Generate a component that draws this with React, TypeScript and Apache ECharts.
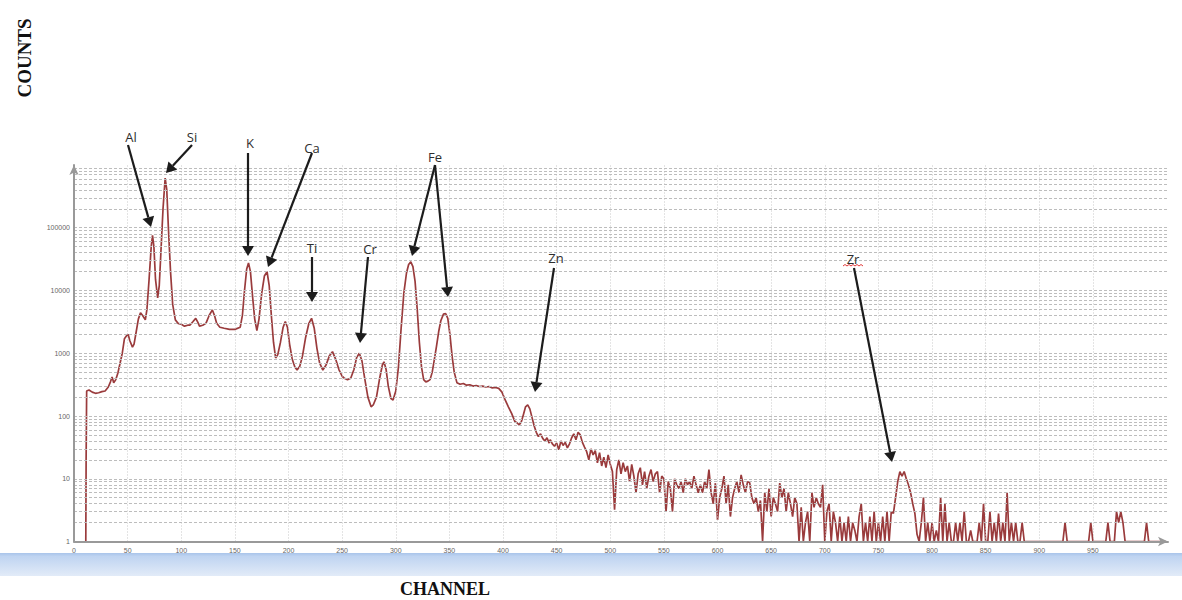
import React, { useEffect, useRef } from "react";
import * as echarts from "echarts";

// ---- DATA ----
// Smooth low-channel part of the spectrum: [channel, counts]
const peakRegion: [number, number][] = [
  [11, 1], [11.3, 20], [11.8, 250], [14, 260], [17, 240], [20, 230], [23, 235], [26, 245], [29, 250],
  [32, 290], [34, 350], [35.5, 420], [37, 340], [39, 380], [41, 490], [43, 700], [45, 1000], [47, 1700],
  [49, 1900], [50.5, 2000], [52, 1600], [54.5, 1250], [56, 1400], [58, 2200], [60, 3500], [62, 4400],
  [64, 4000], [66.5, 3400], [68, 5000], [70, 15000], [72, 50000], [73.2, 76000], [74.5, 50000],
  [76, 15000], [78, 7600], [79.5, 12000], [81, 40000], [83, 200000], [85, 620000], [86.5, 400000],
  [88, 100000], [90, 20000], [92, 6000], [94.5, 3400], [97, 3000], [100, 2900], [103, 2700], [106, 2800],
  [108, 2800], [111, 3200], [113.5, 3600], [115.5, 3100], [117, 2700], [120, 2800], [123, 3000],
  [126, 4000], [129, 4900], [131, 4000], [133, 3000], [136, 2600], [140, 2500], [145, 2400], [150, 2400],
  [155, 2600], [157, 4000], [159, 10000], [161, 22000], [162.7, 27500], [164.5, 20000], [166.5, 8000],
  [168.5, 3500], [170.5, 2300], [172.5, 3500], [175, 9000], [177.5, 17000], [180, 19900], [182, 12000],
  [184, 4000], [186, 1500], [188, 840], [190, 950], [192.5, 1500], [195, 2600], [197, 3200], [199, 2600],
  [201, 1400], [203.5, 800], [206, 600], [208, 540], [210.5, 620], [213, 900], [216, 1800], [219, 3000],
  [221.5, 3600], [224, 2500], [226.5, 1200], [229, 700], [232, 540], [235, 650], [238, 900], [241, 1060],
  [244, 800], [247, 550], [250, 430], [252, 400], [255, 380], [258, 400], [261, 550], [263.5, 850],
  [266, 1000], [268.5, 750], [271, 400], [274, 200], [277, 140], [279, 150], [282, 200], [285, 400],
  [287.5, 650], [289, 730], [291, 550], [293, 300], [295.5, 190], [297.5, 180], [300, 250], [302.5, 600],
  [305, 2500], [307.5, 9000], [310, 19000], [312, 26000], [314, 28600], [316, 24000], [318, 14000],
  [320, 5000], [322, 1500], [324, 600], [326, 380], [328, 350], [330, 360], [332, 380], [334, 500],
  [336, 800], [338, 1300], [340, 2200], [342, 3300], [344.5, 4200], [346.5, 4300], [348.5, 3600],
  [350.5, 2000], [352.5, 900], [354.5, 500], [357, 340], [360, 320], [363, 330], [366, 310], [369, 315],
  [372, 300], [375, 305], [378, 295], [381, 300], [384, 290], [387, 295], [390, 280], [393, 285],
  [396, 275], [399, 240], [402, 180], [405, 140], [408, 110], [411, 82], [413, 78], [415, 72], [417, 80],
  [419, 105], [421, 140], [423, 150], [425, 130], [427, 95], [429, 70], [431, 55], [433, 47], [435, 52],
  [437, 44], [439, 40], [441, 45], [443, 37],
];

// Noisy high-channel tail: counts every 2 channels starting at channel 444
const tailStartChannel = 444;
const tailChannelStep = 2;
const tailCounts: number[] = [
  42, 36, 33, 37, 29, 40, 34, 38, 31, 36,
  45, 52, 42, 55, 50, 38, 32, 27, 20, 30,
  24, 28, 18, 26, 16, 22, 15, 24, 17, 13,
  3.2, 14, 20, 12, 18, 13, 16, 9, 17, 11,
  6, 12, 15, 8, 13, 7, 11, 14, 9, 12,
  13, 6, 11, 10, 3, 9, 7, 3, 10, 8,
  7, 9, 6, 10, 8, 9, 7, 11, 8, 6,
  8, 6, 9, 7, 14, 6, 4, 8.5, 2.2, 5,
  7, 11, 4, 8, 2.5, 5, 7, 9, 6, 11.5,
  8, 6, 9, 8.6, 5, 4, 5, 3, 4.5, 1,
  6, 3, 7, 2.5, 5, 4, 3, 8.5, 5, 7,
  3, 6, 4, 2.5, 5, 4, 1, 3.5, 1, 2,
  3, 1, 6, 3.5, 5, 4, 3.5, 8, 1, 3,
  4, 1, 3, 2, 1, 2.5, 1, 2, 1, 2.5,
  1, 2, 1.5, 1, 2.5, 4, 1, 2, 1, 2.5,
  1, 3, 1, 2, 1, 2.5, 1, 3, 1, 3,
  2.8, 5, 9, 13, 11, 13, 10, 8, 6, 4,
  2.8, 1.3, 1, 2, 5, 1, 2, 1, 2, 1,
  1.5, 1, 5, 1, 4, 1, 2, 1, 1, 2,
  1, 2, 1, 3, 1, 1, 1.5, 1, 1, 1,
  2, 1, 4, 1, 1, 3, 1, 2, 1, 2.8,
  1, 2, 1, 6, 1, 2, 1, 2, 1, 1,
  2, 1, 1, 1, 1, 1, 1, 1, 1, 1,
  1, 1, 1, 1, 1, 1, 1, 1, 1, 1,
  2, 1, 1, 1, 1, 1, 1, 1, 1, 1,
  1, 1, 2, 1, 1, 1, 1, 1, 1, 1,
  2, 1, 1, 1, 3, 2, 3, 2, 1, 1,
  1, 1, 1, 1, 1, 1, 1, 1, 2, 1,
  1, 1, 1, 1, 1, 1, 1, 1,
];

const xTickValues = [50, 100, 150, 200, 250, 300, 350, 400, 450, 500, 550, 600, 650, 700, 750, 800, 850, 900, 950];
const yDecades = [1, 10, 100, 1000, 10000, 100000];
const yMinorSteps = [1, 2, 3, 4, 5, 6, 7, 8, 9];

// Element annotations (label text and positions are layout, in pixels)
const elementLabels = ["Al", "Si", "K", "Ca", "Ti", "Cr", "Fe", "Zn", "Zr"];

// ---- LAYOUT ----
const labelPos: Record<string, [number, number]> = {
  Al: [131, 137], Si: [192, 137], K: [250, 143], Ca: [312, 148], Ti: [312, 248],
  Cr: [370, 249], Fe: [435, 157], Zn: [556, 258], Zr: [853, 259],
};
const arrowPaths: Record<string, [number, number, number, number][]> = {
  Al: [[128, 145, 151, 227]],
  Si: [[192, 145, 166, 173]],
  K: [[248, 153, 248, 256]],
  Ca: [[312, 153, 268, 267]],
  Ti: [[312, 257, 312, 302]],
  Cr: [[368, 257, 360, 343]],
  Fe: [[435, 165, 412, 256], [435, 165, 448, 297]],
  Zn: [[554, 268, 535, 392]],
  Zr: [[854, 268, 892, 462]],
};
const whiteBoxes: [number, number, number, number][] = [
  [293, 238, 46, 24], [348, 238, 52, 24], [525, 243, 72, 29], [823, 243, 82, 34],
];

function arrowEls(x1: number, y1: number, x2: number, y2: number) {
  const dx = x2 - x1, dy = y2 - y1;
  const L = Math.hypot(dx, dy);
  const ux = dx / L, uy = dy / L;
  const hl = 10, hw = 6;
  const bx = x2 - ux * hl, by = y2 - uy * hl;
  return [
    { type: "line", z: 20, shape: { x1, y1, x2: bx, y2: by }, style: { stroke: "#1c1c1c", lineWidth: 2.2 } },
    {
      type: "polygon", z: 20,
      shape: { points: [[x2, y2], [bx - uy * hw, by + ux * hw], [bx + uy * hw, by - ux * hw]] },
      style: { fill: "#1c1c1c" },
    },
  ];
}

export default function App() {
  const ref = useRef<HTMLDivElement>(null);
  useEffect(() => {
    if (!ref.current) return;
    const chart = echarts.init(ref.current, undefined, { renderer: "svg" });

    const tail: [number, number][] = tailCounts.map((c, i) => [tailStartChannel + i * tailChannelStep, c]);
    const spectrum = [...peakRegion, ...tail];

    const gridLines: any[] = [];
    xTickValues.forEach((v) =>
      gridLines.push({ xAxis: v, lineStyle: { color: "#c9c9c9", type: [1, 2], width: 1 } })
    );
    yDecades.forEach((d) =>
      yMinorSteps.forEach((m) => {
        const v = d * m;
        if (v > 1) gridLines.push({ yAxis: v, lineStyle: { color: "#bdbdbd", type: [3, 2], width: 1 } });
      })
    );

    const graphics: any[] = [
      {
        type: "rect", z: 0, shape: { x: 0, y: 553, width: 1182, height: 23 },
        style: {
          fill: new echarts.graphic.LinearGradient(0, 0, 0, 1, [
            { offset: 0, color: "#a9c4ea" },
            { offset: 0.15, color: "#bfd4f1" },
            { offset: 1, color: "#e2ebf8" },
          ]),
        },
      },
      {
        type: "text", z: 20, x: 24, y: 58, rotation: Math.PI / 2,
        style: { text: "COUNTS", font: 'bold 19px "Liberation Serif"', fill: "#111", align: "center", verticalAlign: "middle" },
      },
      {
        type: "text", z: 20, x: 445, y: 589,
        style: { text: "CHANNEL", font: 'bold 18px "Liberation Serif"', fill: "#111", align: "center", verticalAlign: "middle" },
      },
    ];
    whiteBoxes.forEach(([x, y, w, h]) =>
      graphics.push({ type: "rect", z: 5, shape: { x, y, width: w, height: h }, style: { fill: "#ffffff" } })
    );
    elementLabels.forEach((name) => {
      const [x, y] = labelPos[name];
      graphics.push({
        type: "text", z: 20, x, y,
        style: { text: name, font: '13px "Open Sans"', fill: "#2e2e2e", align: "center", verticalAlign: "middle" },
      });
      arrowPaths[name].forEach(([a, b, c, d]) => graphics.push(...arrowEls(a, b, c, d)));
    });
    // spell-check squiggle under Zr
    graphics.push({
      type: "polyline", z: 20,
      shape: { points: [[843, 266], [845, 264.5], [847, 266], [849, 264.5], [851, 266], [853, 264.5], [855, 266], [857, 264.5], [859, 266], [861, 264.5], [863, 266]] },
      style: { stroke: "#e23b3b", lineWidth: 1, fill: null },
    });

    chart.setOption({
      animation: false,
      grid: { left: 74, right: 14, top: 165, bottom: 58.5, containLabel: false },
      xAxis: {
        type: "value", min: 0, max: 1020, interval: 50, z: 10,
        axisLine: { show: true, symbol: ["none", "arrow"], symbolSize: [7, 10], lineStyle: { color: "#999", width: 2 } },
        axisTick: { show: false },
        splitLine: { show: false },
        axisLabel: {
          fontSize: 7, color: "#666", margin: 5, fontFamily: "Liberation Sans",
          formatter: (v: number) => (v >= 1000 ? "" : String(v)),
        },
      },
      yAxis: {
        type: "log", logBase: 10, min: 1, max: 1000000, z: 10,
        axisLine: { show: true, symbol: ["none", "arrow"], symbolSize: [7, 10], lineStyle: { color: "#999", width: 2 } },
        axisTick: { show: false },
        splitLine: { show: false },
        axisLabel: {
          fontSize: 7, color: "#666", margin: 4, fontFamily: "Liberation Sans",
          formatter: (v: number) => (v >= 999999 ? "" : String(Math.round(v))),
        },
      },
      series: [
        {
          type: "line", data: [], z: 1, silent: true,
          markLine: { silent: true, symbol: "none", label: { show: false }, animation: false, data: gridLines },
        },
        {
          type: "line", data: spectrum, z: 3, showSymbol: false, symbol: "none", clip: true,
          lineStyle: { color: "#9a3b3c", width: 1.7 },
        },
      ],
      graphic: graphics,
    });
    return () => chart.dispose();
  }, []);
  return <div ref={ref} style={{ position: "absolute", left: 0, top: 0, width: 1182, height: 600 }} />;
}
